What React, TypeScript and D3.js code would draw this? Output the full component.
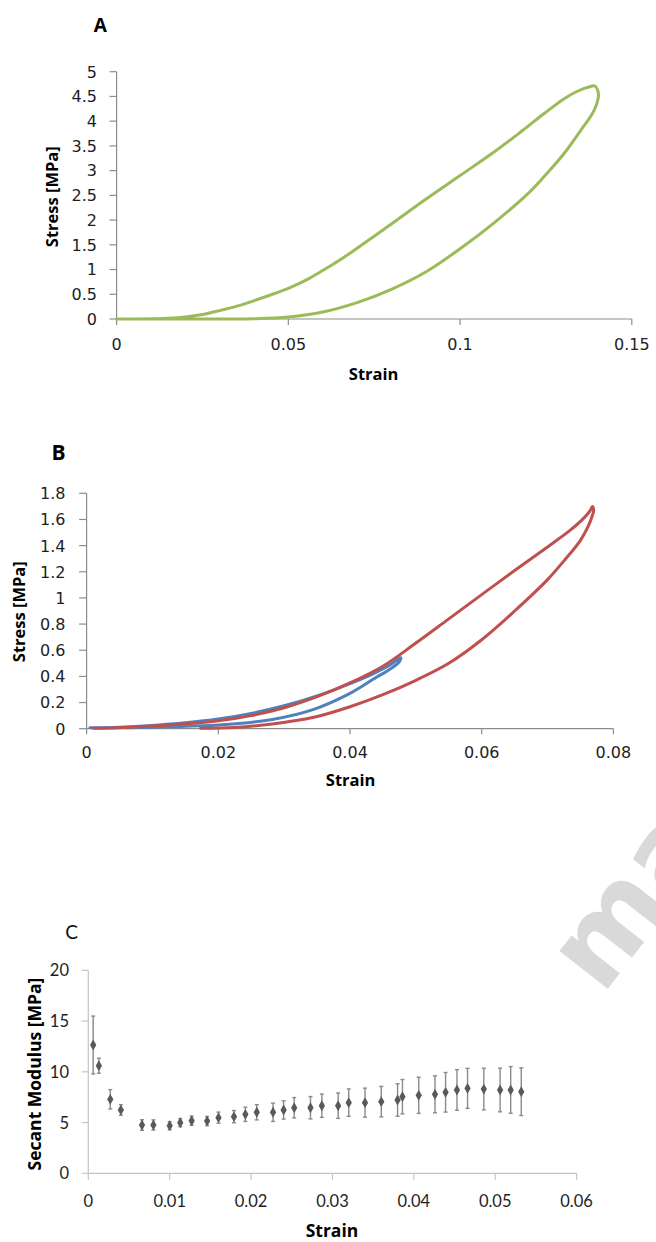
import React, { useEffect, useRef } from 'react';
import * as d3 from 'd3';

// ---------- Panel A data (strain, stress MPa) ----------
const aLoadStrain = [0, 0.01, 0.015, 0.02, 0.025, 0.03, 0.035, 0.04, 0.045, 0.05, 0.055, 0.06, 0.066, 0.07, 0.08, 0.09, 0.1, 0.11, 0.118, 0.1244, 0.13, 0.134, 0.1375, 0.1392];
const aLoadStress = [0, 0.004, 0.015, 0.04, 0.09, 0.17, 0.26, 0.37, 0.49, 0.62, 0.78, 0.98, 1.24, 1.43, 1.92, 2.42, 2.9, 3.38, 3.8, 4.15, 4.44, 4.6, 4.69, 4.71];
const aUnloadStrain = [0.1403, 0.1398, 0.1385, 0.135, 0.13, 0.125, 0.12, 0.11, 0.1, 0.09, 0.08, 0.07, 0.06, 0.05, 0.04, 0.03, 0];
const aUnloadStress = [4.55, 4.35, 4.15, 3.8, 3.32, 2.92, 2.55, 1.95, 1.42, 0.95, 0.6, 0.33, 0.14, 0.04, 0.005, 0, 0];
const aXTicks = [0, 0.05, 0.1, 0.15];
const aYTicks = [0, 0.5, 1, 1.5, 2, 2.5, 3, 3.5, 4, 4.5, 5];

// ---------- Panel B data ----------
const bRedLoadStrain = [0.001, 0.005, 0.01, 0.015, 0.02, 0.025, 0.03, 0.035, 0.04, 0.045, 0.05, 0.055, 0.06, 0.065, 0.07, 0.0735, 0.0755, 0.0765, 0.0768];
const bRedLoadStress = [0.003, 0.008, 0.02, 0.037, 0.061, 0.1, 0.16, 0.245, 0.35, 0.478, 0.655, 0.84, 1.025, 1.21, 1.39, 1.52, 1.61, 1.67, 1.7];
const bRedUnloadStrain = [0.077, 0.0768, 0.0762, 0.075, 0.0726, 0.07, 0.065, 0.06, 0.055, 0.05, 0.045, 0.04, 0.0345, 0.0282, 0.0224, 0.0173];
const bRedUnloadStress = [1.67, 1.63, 1.55, 1.44, 1.29, 1.14, 0.9, 0.68, 0.5, 0.37, 0.26, 0.168, 0.087, 0.036, 0.01, 0.003];
const bBlueLoadStrain = [0.0005, 0.005, 0.01, 0.015, 0.02, 0.025, 0.03, 0.035, 0.04, 0.0435, 0.046, 0.0477];
const bBlueLoadStress = [0.008, 0.012, 0.025, 0.045, 0.074, 0.117, 0.175, 0.25, 0.345, 0.42, 0.485, 0.543];
const bBlueUnloadStrain = [0.0475, 0.046, 0.044, 0.04, 0.0345, 0.0282, 0.02, 0.0123, 0.0059];
const bBlueUnloadStress = [0.513, 0.452, 0.393, 0.27, 0.148, 0.071, 0.028, 0.015, 0.008];
const bXTicks = [0, 0.02, 0.04, 0.06, 0.08];
const bYTicks = [0, 0.2, 0.4, 0.6, 0.8, 1, 1.2, 1.4, 1.6, 1.8];

// ---------- Panel C data ----------
const cStrain = [0.0006, 0.0013, 0.0027, 0.004, 0.0066, 0.008, 0.01, 0.0113, 0.0127, 0.0146, 0.016, 0.0179, 0.0193, 0.0207, 0.0227, 0.024, 0.0253, 0.0273, 0.0287, 0.0307, 0.032, 0.034, 0.036, 0.038, 0.0386, 0.0406, 0.0426, 0.0439, 0.0453, 0.0466, 0.0486, 0.0506, 0.0519, 0.0532];
const cModulus = [12.64, 10.6, 7.29, 6.24, 4.76, 4.76, 4.69, 4.99, 5.18, 5.15, 5.48, 5.58, 5.81, 6.01, 6.01, 6.24, 6.46, 6.46, 6.66, 6.66, 6.96, 6.96, 7.06, 7.22, 7.55, 7.68, 7.78, 7.98, 8.21, 8.37, 8.3, 8.21, 8.21, 8.04];
const cError = [2.85, 0.74, 0.95, 0.52, 0.52, 0.5, 0.4, 0.4, 0.45, 0.45, 0.55, 0.6, 0.7, 0.75, 0.9, 0.9, 1.0, 1.1, 1.15, 1.25, 1.35, 1.43, 1.5, 1.6, 1.69, 1.78, 1.82, 1.95, 2.0, 1.97, 2.05, 2.15, 2.3, 2.35];
const cXTicks = [0, 0.01, 0.02, 0.03, 0.04, 0.05, 0.06];
const cYTicks = [0, 5, 10, 15, 20];

const TITLE_FONT = "'Open Sans', Lato, sans-serif";

type AxisOpts = {
  axisColor: string;
  font: string;
  fontSize: number;
  xTickLen: number;
  yTickLen: number;
  xLabelBaseline: number;
  yLabelRight: number;
  yLabelShift: number;
};

function drawAxes(
  g: d3.Selection<SVGGElement, unknown, null, undefined>,
  x: d3.ScaleLinear<number, number>,
  y: d3.ScaleLinear<number, number>,
  xTicks: number[],
  yTicks: number[],
  o: AxisOpts
) {
  const [x0, x1] = x.range();
  const [y0, y1] = y.range();
  g.append('line').attr('x1', x0).attr('x2', x0).attr('y1', y0).attr('y2', y1)
    .attr('stroke', o.axisColor).attr('stroke-width', 1.2);
  g.append('line').attr('x1', x0).attr('x2', x1).attr('y1', y0).attr('y2', y0)
    .attr('stroke', o.axisColor).attr('stroke-width', 1.2);
  g.selectAll('line.yt').data(yTicks).enter().append('line')
    .attr('x1', x0 - o.yTickLen).attr('x2', x0)
    .attr('y1', (d) => y(d)).attr('y2', (d) => y(d))
    .attr('stroke', o.axisColor).attr('stroke-width', 1.2);
  g.selectAll('line.xt').data(xTicks).enter().append('line')
    .attr('x1', (d) => x(d)).attr('x2', (d) => x(d))
    .attr('y1', y0).attr('y2', y0 + o.xTickLen)
    .attr('stroke', o.axisColor).attr('stroke-width', 1.2);
  g.selectAll('text.yl').data(yTicks).enter().append('text')
    .attr('x', o.yLabelRight).attr('y', (d) => y(d) + o.yLabelShift)
    .attr('text-anchor', 'end')
    .attr('font-family', o.font).attr('font-size', o.fontSize).attr('fill', '#1e1e1e')
    .text((d) => String(d));
  g.selectAll('text.xl').data(xTicks).enter().append('text')
    .attr('x', (d) => x(d)).attr('y', o.xLabelBaseline)
    .attr('text-anchor', 'middle')
    .attr('font-family', o.font).attr('font-size', o.fontSize).attr('fill', '#1e1e1e')
    .text((d) => String(d));
}

function zip(a: number[], b: number[]): [number, number][] {
  return a.map((v, i) => [v, b[i]] as [number, number]);
}

export default function App() {
  const ref = useRef<SVGSVGElement>(null);

  useEffect(() => {
    const svg = d3.select(ref.current as SVGSVGElement);
    svg.selectAll('*').remove();

    // watermark (partially visible, as in the source figure)
    svg.append('text')
      .attr('transform', 'translate(602,996) rotate(-52)')
      .attr('font-family', "'DejaVu Sans', sans-serif")
      .attr('font-weight', 'bold')
      .attr('font-size', 112)
      .attr('fill', '#d9d9d9')
      .text('ma');

    // ---------------- Panel A ----------------
    const gA = svg.append('g');
    const xA = d3.scaleLinear().domain([0, 0.15]).range([116.6, 631.8]);
    const yA = d3.scaleLinear().domain([0, 5]).range([319, 71.7]);
    drawAxes(gA, xA, yA, aXTicks, aYTicks, {
      axisColor: '#8c8c8c', font: "'DejaVu Sans', sans-serif", fontSize: 16,
      xTickLen: 6, yTickLen: 7, xLabelBaseline: 350, yLabelRight: 97, yLabelShift: 5.8,
    });
    const lineA = d3.line<[number, number]>()
      .x((d) => xA(d[0])).y((d) => yA(d[1]))
      .curve(d3.curveCatmullRom.alpha(0.5));
    const aPts = zip(aLoadStrain, aLoadStress).concat(zip(aUnloadStrain, aUnloadStress));
    gA.append('path').attr('d', lineA(aPts) as string)
      .attr('fill', 'none').attr('stroke', '#9BBB59').attr('stroke-width', 3)
      .attr('stroke-linejoin', 'round').attr('stroke-linecap', 'round');
    gA.append('text').attr('x', 100.4).attr('y', 32).attr('text-anchor', 'middle')
      .attr('font-family', TITLE_FONT).attr('font-weight', 'bold').attr('font-size', 19).text('A');
    gA.append('text').attr('x', 373.6).attr('y', 379.5).attr('text-anchor', 'middle')
      .attr('font-family', TITLE_FONT).attr('font-weight', 'bold').attr('font-size', 16.5).text('Strain');
    gA.append('text').attr('transform', 'translate(58,196.7) rotate(-90)').attr('text-anchor', 'middle')
      .attr('font-family', TITLE_FONT).attr('font-weight', 'bold').attr('font-size', 16.5).text('Stress [MPa]');

    // ---------------- Panel B ----------------
    const gB = svg.append('g');
    const xB = d3.scaleLinear().domain([0, 0.08]).range([86.6, 613.4]);
    const yB = d3.scaleLinear().domain([0, 1.8]).range([728.7, 493.3]);
    drawAxes(gB, xB, yB, bXTicks, bYTicks, {
      axisColor: '#8c8c8c', font: "'DejaVu Sans', sans-serif", fontSize: 16,
      xTickLen: 5.5, yTickLen: 7.5, xLabelBaseline: 758.3, yLabelRight: 65.5, yLabelShift: 5.9,
    });
    const lineB = d3.line<[number, number]>()
      .x((d) => xB(d[0])).y((d) => yB(d[1]))
      .curve(d3.curveCatmullRom.alpha(0.5));
    const bluePts = zip(bBlueLoadStrain, bBlueLoadStress).concat(zip(bBlueUnloadStrain, bBlueUnloadStress));
    const redPts = zip(bRedLoadStrain, bRedLoadStress).concat(zip(bRedUnloadStrain, bRedUnloadStress));
    gB.append('path').attr('d', lineB(bluePts) as string)
      .attr('fill', 'none').attr('stroke', '#4F81BD').attr('stroke-width', 3)
      .attr('stroke-linejoin', 'round').attr('stroke-linecap', 'round');
    gB.append('path').attr('d', lineB(redPts) as string)
      .attr('fill', 'none').attr('stroke', '#C0504D').attr('stroke-width', 3)
      .attr('stroke-linejoin', 'round').attr('stroke-linecap', 'round');
    gB.append('text').attr('x', 58.6).attr('y', 460).attr('text-anchor', 'middle')
      .attr('font-family', TITLE_FONT).attr('font-weight', 'bold').attr('font-size', 21).text('B');
    gB.append('text').attr('x', 350.6).attr('y', 786.3).attr('text-anchor', 'middle')
      .attr('font-family', TITLE_FONT).attr('font-weight', 'bold').attr('font-size', 16.5).text('Strain');
    gB.append('text').attr('transform', 'translate(24.5,611.7) rotate(-90)').attr('text-anchor', 'middle')
      .attr('font-family', TITLE_FONT).attr('font-weight', 'bold').attr('font-size', 16.5).text('Stress [MPa]');

    // ---------------- Panel C ----------------
    const gC = svg.append('g');
    const xC = d3.scaleLinear().domain([0, 0.06]).range([88.3, 576.6]);
    const yC = d3.scaleLinear().domain([0, 20]).range([1173.3, 970.3]);
    drawAxes(gC, xC, yC, cXTicks, cYTicks, {
      axisColor: '#c4c4c4', font: "Lato, sans-serif", fontSize: 16.5,
      xTickLen: 6.5, yTickLen: 6.5, xLabelBaseline: 1206.7, yLabelRight: 69, yLabelShift: 6,
    });
    const cData = cStrain.map((s, i) => ({ s, v: cModulus[i], e: cError[i] }));
    const eb = gC.append('g').attr('stroke', '#8a8a8a').attr('stroke-width', 1.4);
    eb.selectAll('line.v').data(cData).enter().append('line')
      .attr('x1', (d) => xC(d.s)).attr('x2', (d) => xC(d.s))
      .attr('y1', (d) => yC(d.v + d.e)).attr('y2', (d) => yC(d.v - d.e));
    eb.selectAll('line.t').data(cData).enter().append('line')
      .attr('x1', (d) => xC(d.s) - 2).attr('x2', (d) => xC(d.s) + 2)
      .attr('y1', (d) => yC(d.v + d.e)).attr('y2', (d) => yC(d.v + d.e));
    eb.selectAll('line.b').data(cData).enter().append('line')
      .attr('x1', (d) => xC(d.s) - 2).attr('x2', (d) => xC(d.s) + 2)
      .attr('y1', (d) => yC(d.v - d.e)).attr('y2', (d) => yC(d.v - d.e));
    const diamond = d3.symbol().type(d3.symbolDiamond).size(34);
    gC.selectAll('path.pt').data(cData).enter().append('path')
      .attr('d', diamond() as string)
      .attr('transform', (d) => `translate(${xC(d.s)},${yC(d.v)})`)
      .attr('fill', '#595959');
    gC.append('text').attr('x', 71.5).attr('y', 938.5).attr('text-anchor', 'middle')
      .attr('font-family', "Lato, sans-serif").attr('font-size', 19).attr('fill', '#111').text('C');
    gC.append('text').attr('x', 332).attr('y', 1236.5).attr('text-anchor', 'middle')
      .attr('font-family', TITLE_FONT).attr('font-weight', 'bold').attr('font-size', 17.5).text('Strain');
    gC.append('text').attr('transform', 'translate(40.5,1074) rotate(-90)').attr('text-anchor', 'middle')
      .attr('font-family', TITLE_FONT).attr('font-weight', 'bold').attr('font-size', 17.5).text('Secant Modulus [MPa]');
  }, []);

  return (
    <svg
      ref={ref}
      width={656}
      height={1242}
      style={{ position: 'absolute', left: 0, top: 0, background: '#ffffff' }}
    />
  );
}
